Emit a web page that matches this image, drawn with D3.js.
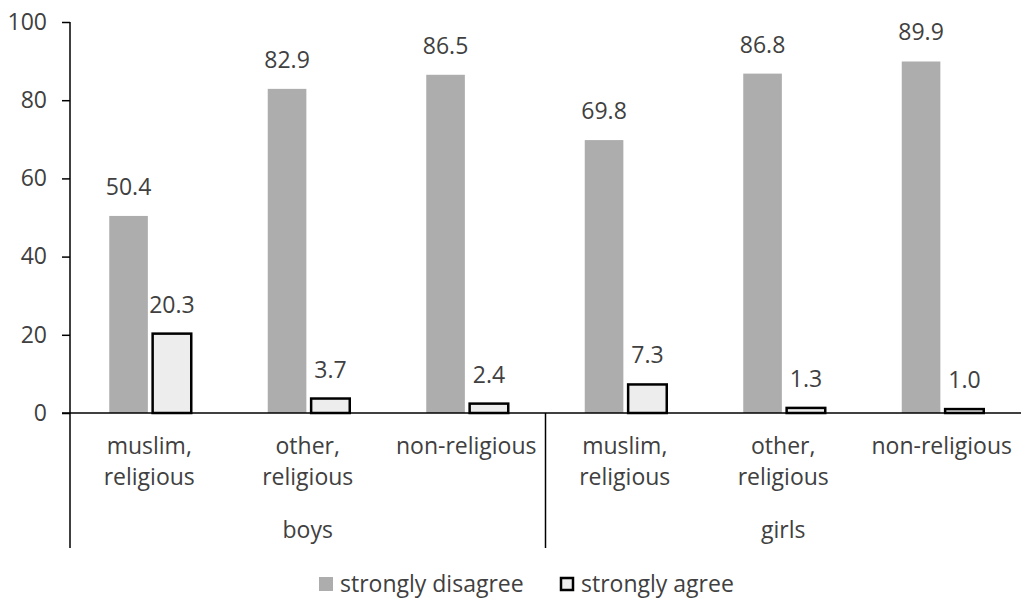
<!DOCTYPE html>
<html>
<head>
<meta charset="utf-8">
<script src="https://cdn.jsdelivr.net/npm/d3@7"></script>
<style>
  body { margin: 0; background: #fff; }
  text { font-family: "Open Sans", Lato, sans-serif; fill: #404040; }
</style>
</head>
<body>
<div id="chart"></div>
<script>
// data
const groups = ["boys", "girls"];
const categories = ["muslim, religious", "other, religious", "non-religious"];
const seriesNames = ["strongly disagree", "strongly agree"];
const disagree = [50.4, 82.9, 86.5, 69.8, 86.8, 89.9];
const agree = [20.3, 3.7, 2.4, 7.3, 1.3, 1.0];
const yTicks = [0, 20, 40, 60, 80, 100];

const w = 1022;
const h = 604;
const padLeft = 70;
const padRight = 1021;
const padTop = 22;
const zeroY = 413;
const fontSize = 23;

const svg = d3
  .select("#chart")
  .append("svg")
  .attr("width", w)
  .attr("height", h);

// one slot per group/category pair
const slots = [];
groups.forEach((g, gi) => {
  categories.forEach((c, ci) => {
    slots.push({ group: g, cat: c, key: g + "|" + c, i: gi * categories.length + ci });
  });
});

const x = d3
  .scaleBand()
  .domain(slots.map((d) => d.key))
  .range([padLeft, padRight]);

const xInner = d3
  .scaleBand()
  .domain(seriesNames)
  .range([x.bandwidth() / 2 - 40, x.bandwidth() / 2 + 42])
  .paddingInner(0.11);

const y = d3.scaleLinear().domain([0, 100]).range([zeroY, padTop]);

// y axis
const yAxis = d3.axisLeft(y).tickValues(yTicks).tickSize(8).tickPadding(15);
const yG = svg
  .append("g")
  .attr("transform", `translate(${padLeft},0)`)
  .call(yAxis);
yG.attr("font-family", null).attr("font-size", null);
yG.select(".domain").remove();
yG.selectAll("line").attr("stroke", "#000").attr("stroke-width", 1.5);
yG.selectAll("text")
  .style("font-size", fontSize + "px")
  .attr("fill", "#404040");

// vertical axis line extends to the bottom of the group labels
svg
  .append("line")
  .attr("x1", padLeft)
  .attr("x2", padLeft)
  .attr("y1", padTop)
  .attr("y2", 548)
  .attr("stroke", "#000")
  .attr("stroke-width", 1.5);

// bars
const rows = slots.map((s) => ({
  key: s.key,
  values: [
    { name: seriesNames[0], v: disagree[s.i] },
    { name: seriesNames[1], v: agree[s.i] },
  ],
}));

const slotG = svg
  .selectAll(".slot")
  .data(rows)
  .enter()
  .append("g")
  .attr("class", "slot")
  .attr("transform", (d) => `translate(${x(d.key)},0)`);

slotG
  .selectAll("rect")
  .data((d) => d.values)
  .enter()
  .append("rect")
  .attr("x", (d) => xInner(d.name))
  .attr("width", xInner.bandwidth())
  .attr("y", (d) => y(d.v))
  .attr("height", (d) => zeroY - y(d.v))
  .attr("fill", (d) => (d.name === seriesNames[0] ? "#adadad" : "#ededed"))
  .attr("stroke", (d) => (d.name === seriesNames[0] ? "none" : "#000"))
  .attr("stroke-width", 2.5);

// value labels
slotG
  .selectAll(".val")
  .data((d) => d.values)
  .enter()
  .append("text")
  .attr("class", "val")
  .attr("x", (d) => xInner(d.name) + xInner.bandwidth() / 2)
  .attr("y", (d) => y(d.v) - 21)
  .attr("text-anchor", "middle")
  .style("font-size", fontSize + "px")
  .text((d) => d.v.toFixed(1));

// x axis line
svg
  .append("line")
  .attr("x1", padLeft - 8)
  .attr("x2", padRight)
  .attr("y1", zeroY)
  .attr("y2", zeroY)
  .attr("stroke", "#000")
  .attr("stroke-width", 1.5);

// category labels (wrapped on comma)
slots.forEach((s) => {
  const parts = s.cat.includes(",")
    ? [s.cat.split(",")[0] + ",", s.cat.split(",")[1].trim()]
    : [s.cat];
  const t = svg
    .append("text")
    .attr("text-anchor", "middle")
    .style("font-size", fontSize + "px");
  parts.forEach((p, pi) => {
    t.append("tspan")
      .attr("x", x(s.key) + x.bandwidth() / 2)
      .attr("y", 454 + pi * 31)
      .text(p);
  });
});

// group labels and separators
groups.forEach((g, gi) => {
  const first = slots[gi * categories.length];
  const last = slots[gi * categories.length + categories.length - 1];
  const x0 = x(first.key);
  const x1 = x(last.key) + x.bandwidth();
  svg
    .append("text")
    .attr("x", (x0 + x1) / 2)
    .attr("y", 538)
    .attr("text-anchor", "middle")
    .style("font-size", fontSize + "px")
    .text(g);
  if (gi < groups.length - 1) {
    svg
      .append("line")
      .attr("x1", x1)
      .attr("x2", x1)
      .attr("y1", zeroY)
      .attr("y2", 548)
      .attr("stroke", "#000")
      .attr("stroke-width", 1.5);
  }
});

// legend
const legendPos = [319, 560];
seriesNames.forEach((name, i) => {
  const lg = svg.append("g").attr("transform", `translate(${legendPos[i]},577)`);
  lg.append("rect")
    .attr("x", i === 0 ? 0 : 1)
    .attr("y", i === 0 ? 0 : 1)
    .attr("width", i === 0 ? 14 : 12)
    .attr("height", i === 0 ? 14 : 12)
    .attr("fill", i === 0 ? "#adadad" : "#ededed")
    .attr("stroke", i === 0 ? "none" : "#000")
    .attr("stroke-width", 2.5);
  lg.append("text")
    .attr("x", 21)
    .attr("y", 15)
    .style("font-size", fontSize + "px")
    .text(name);
});
</script>
</body>
</html>
